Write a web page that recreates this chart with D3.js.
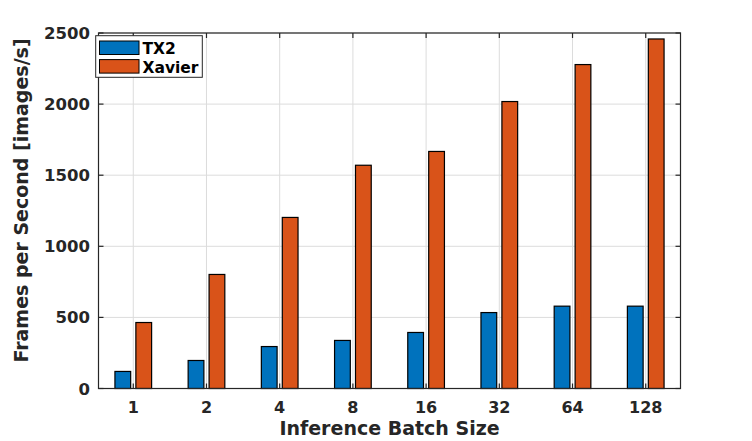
<!DOCTYPE html>
<html>
<head>
<meta charset="utf-8">
<script src="https://cdn.jsdelivr.net/npm/d3@7"></script>
<style>
  body { margin: 0; background: #fff; }
  text { font-family: "DejaVu Sans", sans-serif; font-weight: bold; fill: #262626; }
</style>
</head>
<body>
<div id="chart"></div>
<script>
const batchSizes = ["1", "2", "4", "8", "16", "32", "64", "128"];
const seriesNames = ["TX2", "Xavier"];
const tx2Fps = [120, 197, 295, 338, 394, 534, 579, 579];
const xavierFps = [464, 802, 1203, 1570, 1667, 2018, 2278, 2458];
const yTicks = [0, 500, 1000, 1500, 2000, 2500];
const seriesColors = ["#0072BD", "#D95319"];

const width = 752, height = 441,
    plotLeft = 98.5, plotRight = 680.5, plotTop = 33, plotBottom = 388.5;

const svg = d3.select("#chart").append("svg")
    .attr("width", width)
    .attr("height", height);

const x = d3.scaleLinear().domain([0.525, 8.475]).range([plotLeft, plotRight]);
const y = d3.scaleLinear().domain([0, 2500]).range([plotBottom, plotTop]);

const grid = svg.append("g").attr("stroke", "#dcdcdc").attr("stroke-width", 1);
// vertical grid at categories
grid.selectAll("line.v")
    .data(batchSizes)
    .enter().append("line")
    .attr("x1", (d, i) => x(i + 1)).attr("x2", (d, i) => x(i + 1))
    .attr("y1", plotTop).attr("y2", plotBottom);
grid.selectAll("line.h")
    .data(yTicks)
    .enter().append("line")
    .attr("x1", plotLeft).attr("x2", plotRight)
    .attr("y1", d => y(d)).attr("y2", d => y(d));

// bars
const series = [tx2Fps, xavierFps];
const offset = 0.143, barW = 0.215;
series.forEach((vals, s) => {
    svg.append("g").selectAll("rect")
        .data(vals)
        .enter().append("rect")
        .attr("x", (d, i) => x(i + 1 + (s === 0 ? -offset : offset) - barW / 2))
        .attr("width", x(barW) - x(0))
        .attr("y", d => y(d))
        .attr("height", d => y(0) - y(d))
        .attr("fill", seriesColors[s])
        .attr("stroke", "#000")
        .attr("stroke-width", 1.2);
});

// axes box
const axisColor = "#262626";
svg.append("rect")
    .attr("x", plotLeft).attr("y", plotTop)
    .attr("width", plotRight - plotLeft).attr("height", plotBottom - plotTop)
    .attr("fill", "none").attr("stroke", axisColor).attr("stroke-width", 1.2);

// ticks (inward, all four sides)
const tickLen = 5;
const ticks = svg.append("g").attr("stroke", axisColor).attr("stroke-width", 1.2);
batchSizes.forEach((b, i) => {
    ticks.append("line").attr("x1", x(i + 1)).attr("x2", x(i + 1)).attr("y1", plotBottom).attr("y2", plotBottom - tickLen);
    ticks.append("line").attr("x1", x(i + 1)).attr("x2", x(i + 1)).attr("y1", plotTop).attr("y2", plotTop + tickLen);
});
yTicks.forEach(v => {
    ticks.append("line").attr("x1", plotLeft).attr("x2", plotLeft + tickLen).attr("y1", y(v)).attr("y2", y(v));
    ticks.append("line").attr("x1", plotRight).attr("x2", plotRight - tickLen).attr("y1", y(v)).attr("y2", y(v));
});

// tick labels
svg.append("g").selectAll("text")
    .data(batchSizes)
    .enter().append("text")
    .attr("x", (d, i) => x(i + 1))
    .attr("y", 412.5)
    .attr("text-anchor", "middle")
    .attr("font-size", 16)
    .text(d => d);
svg.append("g").selectAll("text")
    .data(yTicks)
    .enter().append("text")
    .attr("x", 90)
    .attr("y", d => y(d) + 6)
    .attr("text-anchor", "end")
    .attr("font-size", 16.5)
    .text(d => d);

// axis titles
svg.append("text")
    .attr("x", x(4.5))
    .attr("y", 435)
    .attr("text-anchor", "middle")
    .attr("font-size", 19)
    .text("Inference Batch Size");
svg.append("text")
    .attr("transform", "translate(27.5,200.5) rotate(-90)")
    .attr("text-anchor", "middle")
    .attr("font-size", 19)
    .text("Frames per Second [images/s]");

// legend
const legend = svg.append("g");
legend.append("rect")
    .attr("x", 95.7).attr("y", 35.7)
    .attr("width", 106.6).attr("height", 41.6)
    .attr("fill", "#fff").attr("stroke", "#262626").attr("stroke-width", 1);
seriesNames.forEach((name, s) => {
    legend.append("rect")
        .attr("x", 99.5).attr("y", 41 + s * 18.6)
        .attr("width", 39.5).attr("height", 13.5)
        .attr("fill", seriesColors[s])
        .attr("stroke", "#000").attr("stroke-width", 1);
    legend.append("text")
        .attr("x", 142.5).attr("y", 53.5 + s * 19)
        .attr("font-size", 15.5)
        .style("fill", "#000")
        .text(name);
});
</script>
</body>
</html>
